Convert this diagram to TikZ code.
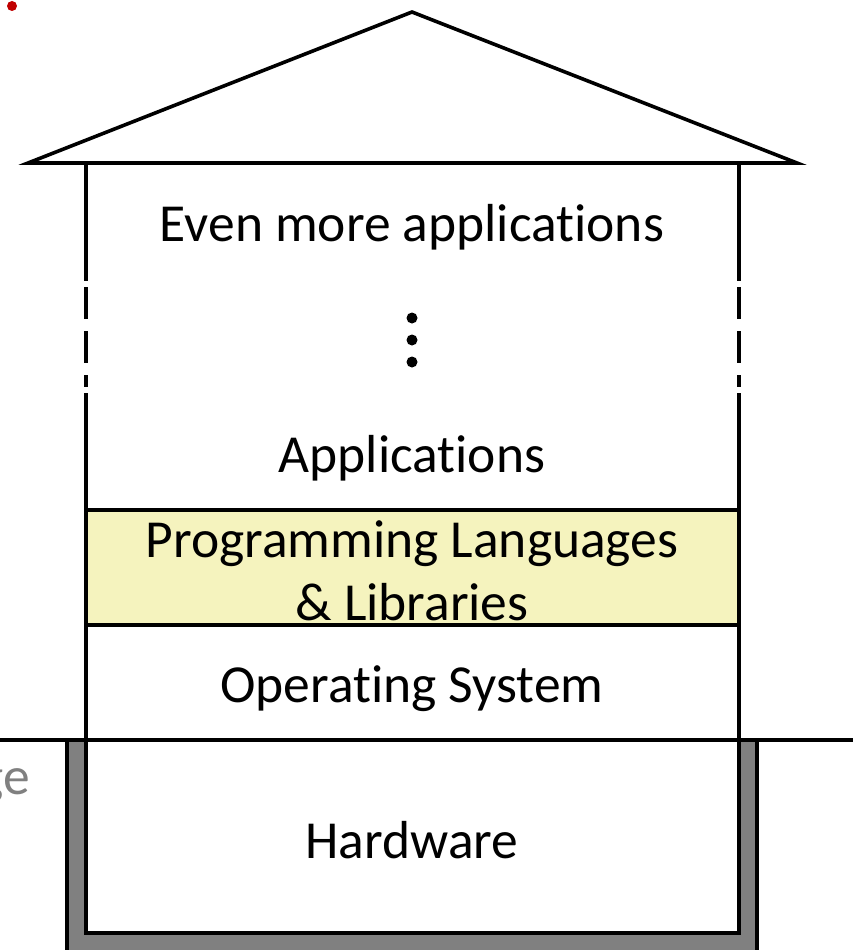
\documentclass[tikz,border=0pt]{standalone}
\usepackage{fontspec}
\setmainfont{Carlito}[Ligatures=NoCommon]
\definecolor{labelyellow}{HTML}{F5F3BE}
\definecolor{wallgray}{HTML}{808080}
\definecolor{dotred}{HTML}{C00000}
\begin{document}
\begin{tikzpicture}[x=1pt,y=-1pt,
  edge/.style={line width=3.6pt},
  layertext/.style={font=\fontsize{53.5}{63}\selectfont, inner sep=0pt},
  dotmark/.style={circle, fill=black, inner sep=0pt, minimum size=11pt}]
  \useasboundingbox (0,0) rectangle (858,950);
  % basement shell
  \fill[wallgray] (67,742) -- (67,955) -- (757,955) -- (757,742) -- (739,742) -- (739,933) -- (86,933) -- (86,742) -- cycle;
  \draw[edge] (67,740) -- (67,955);
  \draw[edge] (757,740) -- (757,955);
  \draw[edge] (86,740) -- (86,933) -- (739,933) -- (739,740);
  % programming languages band
  \fill[labelyellow] (86,510) rectangle (739,625);
  % roof
  \coordinate (roofL) at (28,163);
  \coordinate (apex) at (412,12);
  \coordinate (roofR) at (797,163);
  \draw[edge, line join=miter] (roofL) -- (apex) -- (roofR) -- cycle;
  % walls
  \draw[edge] (86,163) -- (86,281);
  \draw[edge] (739,163) -- (739,281);
  \draw[edge, dash pattern=on 32pt off 12pt on 32pt off 12pt on 12pt off 100pt] (86,287) -- (86,393);
  \draw[edge, dash pattern=on 32pt off 12pt on 32pt off 12pt on 12pt off 100pt] (739,287) -- (739,393);
  \draw[edge] (86,393) -- (86,740);
  \draw[edge] (739,393) -- (739,740);
  % floors
  \draw[edge] (86,510) -- (739,510);
  \draw[edge] (86,625) -- (739,625);
  \draw[edge] (0,740) -- (853,740);
  % labels
  \node[layertext] (more) at (412,227) {Even more applications};
  \node[dotmark] (d1) at (412,318) {};
  \node[dotmark] (d2) at (412,340) {};
  \node[dotmark] (d3) at (412,362) {};
  \node[layertext] (apps) at (412,458) {Applications};
  \node[layertext, align=center] (langs) at (412,571) {Programming Languages\\\& Libraries};
  \node[layertext] (os) at (412,689) {Operating System};
  \node[layertext] (hw) at (412,840) {Hardware};
  \node[layertext, text=wallgray, anchor=east] (side) at (30,786) {ge};
  \node[circle, fill=dotred, inner sep=0pt, minimum size=10pt] (marker) at (12,6) {};
\end{tikzpicture}
\end{document}
